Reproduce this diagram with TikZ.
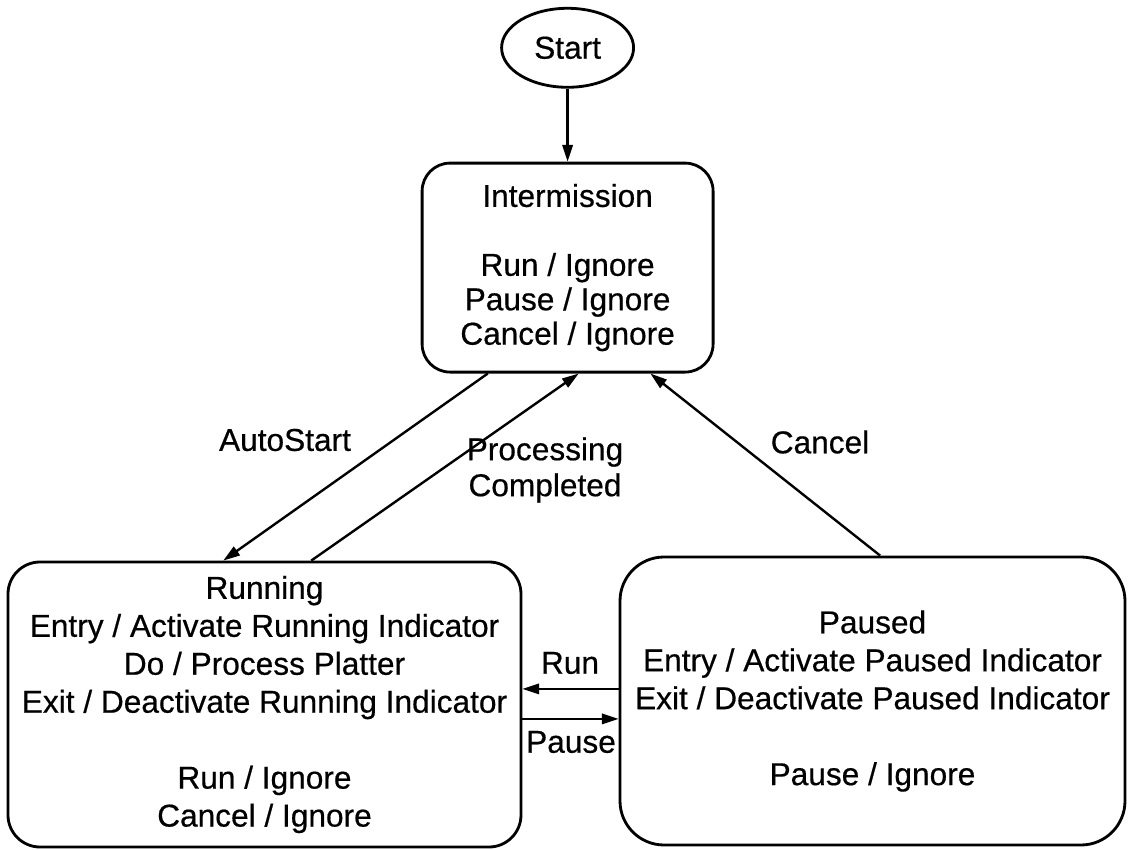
\documentclass[tikz,border=0pt]{standalone}
\usepackage{fontspec}
\setmainfont{Liberation Sans}[FakeBold=0.5]
\usepackage{tikz}
\usetikzlibrary{arrows.meta,positioning,calc,shapes.geometric}
\newcommand{\diagfont}{\fontsize{22.5}{24.5}\selectfont}
\newcommand{\widefont}{\fontsize{22.5}{27}\selectfont}
\tikzset{
  statebox/.style={draw, line width=2pt, align=center, font=\diagfont,
    inner sep=0pt},
  startnode/.style={ellipse, draw, line width=2pt, font=\diagfont,
    minimum width=33mm, minimum height=19.75mm, inner sep=0pt},
  flow/.style={-{Triangle[length=4.2mm,width=2.6mm]}, line width=1.7pt},
  evlabel/.style={font=\fontsize{22.5}{25.6}\selectfont, align=center, inner sep=0pt}
}

\begin{document}
\begin{tikzpicture}
\useasboundingbox (0,0) rectangle (28.225,-21.25);

\node[statebox, rounded corners=7mm, minimum width=72.75mm,
  minimum height=52.25mm] (inter) at (14.19,-6.69)
{Intermission\\[24.5pt]Run / Ignore\\Pause / Ignore\\Cancel / Ignore};
\node[startnode, above=18.25mm of inter] (start) {Start};

\node[statebox, font=\widefont, rounded corners=8mm, minimum width=128.25mm,
  minimum height=71.25mm] (running) at (6.6125,-17.6125)
{Running\\Entry / Activate Running Indicator\\Do / Process Platter\\
Exit / Deactivate Running Indicator\\[27pt]Run / Ignore\\Cancel / Ignore};
\node[statebox, font=\widefont, rounded corners=11mm, minimum width=126.25mm,
  minimum height=72mm] (paused) at (21.8125,-17.525)
{Paused\\Entry / Activate Paused Indicator\\
Exit / Deactivate Paused Indicator\\[27pt]Pause / Ignore};

% transitions
\draw[flow] (start) -- (inter);
\draw[flow] (inter.233.4) -- (running.106.6);
\draw[flow] (running.72.3) -- (inter.276.8);
\draw[flow] (paused.87.8) -- (inter.308.3);

\coordinate (runtip) at ([yshift=0.39cm]running.east);
\coordinate (pausetail) at ([yshift=-0.36cm]running.east);
\draw[flow] (runtip -| paused.west) -- (runtip);
\draw[flow] (pausetail) -- (pausetail -| paused.west);

% event labels
\node[evlabel] (autolbl) at (7.125,-11) {AutoStart};
\node[evlabel] (donelbl) at (13.625,-11.75) {Processing\\Completed};
\node[evlabel] (cancellbl) at (20.5,-11.05) {Cancel};
\node[evlabel] (runlbl) at (14.25,-16.575) {Run};
\node[evlabel] (pauselbl) at (14.275,-18.55) {Pause};
\end{tikzpicture}
\end{document}
